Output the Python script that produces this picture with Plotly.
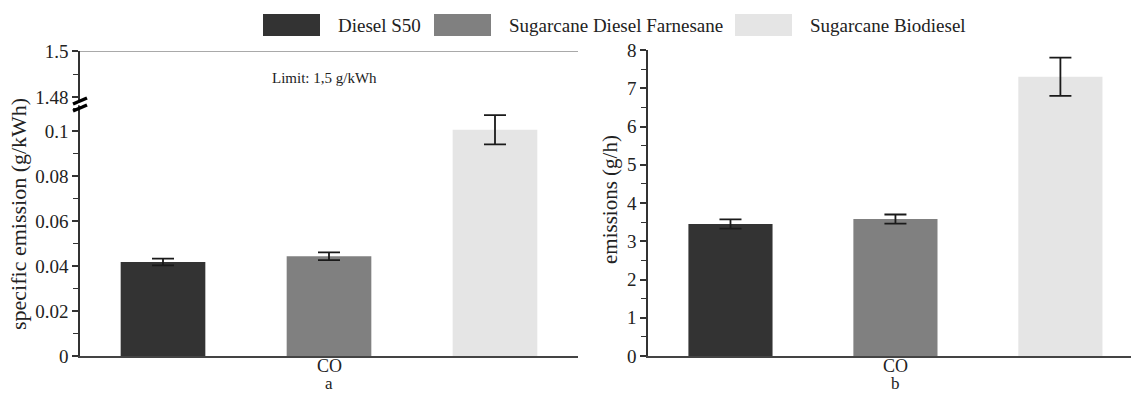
import plotly.graph_objects as go

# ---- data ----
fuels = ["Diesel S50", "Sugarcane Diesel Farnesane", "Sugarcane Biodiesel"]
colors = ["#333333", "#808080", "#e5e5e5"]
category = ["CO"]
specific_emission = [0.0418, 0.0443, 0.1005]   # g/kWh
specific_err = [0.0015, 0.0017, 0.0065]
emissions = [3.45, 3.58, 7.30]                   # g/h
emissions_err = [0.12, 0.12, 0.50]
limit = 1.5
left_ticks = [0, 0.02, 0.04, 0.06, 0.08, 0.1]
left_ticklabels = ["0", "0.02", "0.04", "0.06", "0.08", "0.1"]
upper_ticks = [1.48, 1.5]
upper_ticklabels = ["1.48", "1.5"]
panel_labels = ["a", "b"]
y_titles = ["specific emission (g/kWh)", "emissions (g/h)"]

W, H = 1131, 394
FONT = "Liberation Serif"

def px_x(p):
    return p / W

def px_y(p):
    return (H - p) / H

fig = go.Figure()

for i, name in enumerate(fuels):
    fig.add_trace(go.Bar(
        x=category, y=[specific_emission[i]], name=name,
        marker=dict(color=colors[i], line=dict(width=0)),
        error_y=dict(type="data", array=[specific_err[i]], color="#1a1a1a", thickness=1.8, width=11),
        xaxis="x", yaxis="y", showlegend=False, offsetgroup=str(i)))
    fig.add_trace(go.Bar(
        x=category, y=[emissions[i]], name=name,
        marker=dict(color=colors[i], line=dict(width=0)),
        error_y=dict(type="data", array=[emissions_err[i]], color="#1a1a1a", thickness=1.8, width=11),
        xaxis="x2", yaxis="y2", showlegend=False, offsetgroup=str(i)))

tickfont = dict(family=FONT, size=19, color="#222")
yax = dict(showgrid=False, zeroline=False, linecolor="#333333", linewidth=1.6, automargin=False,
           tickfont=tickfont, showline=True, ticks="outside", ticklen=6, tickwidth=1.6, tickcolor="#333")
xax = dict(showgrid=False, zeroline=False, linecolor="#444444", linewidth=2, automargin=False,
           showticklabels=False, showline=True, ticks="", type="category")

fig.update_layout(
    width=W, height=H, margin=dict(l=0, r=0, t=0, b=0, autoexpand=False),
    paper_bgcolor="white", plot_bgcolor="rgba(0,0,0,0)",
    barmode="group", bargap=0.0, bargroupgap=0.49,
    font=dict(family=FONT, size=19, color="#222"),
    showlegend=False,
    xaxis=dict(domain=[px_x(80), px_x(578)], range=[-0.5, 0.5], anchor="y", **xax),
    yaxis=dict(domain=[px_y(356), px_y(105)], range=[0, 0.1115], anchor="x",
               tickvals=left_ticks, ticktext=left_ticklabels,
               minor=dict(dtick=0.01, ticks="outside", ticklen=5, tickwidth=1.4, tickcolor="#333"),
               **yax),
    yaxis3=dict(domain=[px_y(100), px_y(51)], range=[1.4787, 1.5], anchor="x",
                tickvals=upper_ticks, ticktext=upper_ticklabels,
                minor=dict(tickvals=[1.49], ticks="outside", ticklen=5, tickwidth=1.4, tickcolor="#333"),
                **yax),
    xaxis2=dict(domain=[px_x(648), 1.0], range=[-0.5, 0.476], anchor="y2", **xax),
    yaxis2=dict(domain=[px_y(356), px_y(50)], range=[0, 8], anchor="x2",
                dtick=1,
                minor=dict(dtick=0.5, ticks="outside", ticklen=5, tickwidth=1.4, tickcolor="#333"),
                **yax),
)

# dummy trace to make yaxis3 render
fig.add_trace(go.Scatter(x=category, y=[None], xaxis="x", yaxis="y3", showlegend=False,
                         hoverinfo="skip"))

# category labels and panel labels
for xr, lab in (("x", panel_labels[0]), ("x2", panel_labels[1])):
    fig.add_annotation(text=category[0], xref=xr, yref="paper", x=category[0], y=px_y(365.5),
                       showarrow=False, yanchor="middle", borderpad=0,
                       font=dict(family=FONT, size=18, color="#222"))
    fig.add_annotation(text=lab, xref=xr, yref="paper", x=category[0], y=0,
                       showarrow=False, yanchor="bottom", borderpad=0,
                       font=dict(family=FONT, size=17, color="#222"))

# y titles
fig.add_annotation(text=y_titles[0], xref="paper", yref="paper", x=px_x(19), y=px_y(214),
                   textangle=-90, showarrow=False, xanchor="center", yanchor="middle",
                   font=dict(family=FONT, size=22, color="#222"))
fig.add_annotation(text=y_titles[1], xref="paper", yref="paper", x=px_x(610), y=px_y(200),
                   textangle=-90, showarrow=False, xanchor="center", yanchor="middle",
                   font=dict(family=FONT, size=21, color="#222"))

# limit line
fig.add_shape(type="line", xref="x domain", yref="y3", x0=0, x1=1, y0=limit, y1=limit,
              line=dict(color="#555555", width=1.2))
fig.add_annotation(text="Limit: 1,5 g/kWh", xref="x domain", yref="paper", x=0.49, y=px_y(68),
                   showarrow=False, font=dict(family=FONT, size=15, color="#222"))

# axis break marks
for y0 in (101, 108):
    fig.add_shape(type="line", xref="paper", yref="paper",
                  x0=px_x(73), x1=px_x(87), y0=px_y(y0 + 3), y1=px_y(y0 - 3),
                  line=dict(color="black", width=3.5))
fig.add_shape(type="line", xref="paper", yref="paper",
              x0=px_x(80), x1=px_x(80), y0=px_y(103.5), y1=px_y(105.5),
              line=dict(color="white", width=3))

# manual legend
legend_boxes = [(263, 320), (434, 491), (735, 792)]
for i, name in enumerate(fuels):
    bx0, bx1 = legend_boxes[i]
    fig.add_shape(type="rect", xref="paper", yref="paper",
                  x0=px_x(bx0), x1=px_x(bx1), y0=px_y(36), y1=px_y(14),
                  fillcolor=colors[i], line=dict(width=0))
    fig.add_annotation(text=name, xref="paper", yref="paper", x=px_x(bx1 + 16), y=px_y(25),
                       xanchor="left", yanchor="middle", showarrow=False,
                       font=dict(family=FONT, size=19, color="#222"))

fig.write_html("out.html")
